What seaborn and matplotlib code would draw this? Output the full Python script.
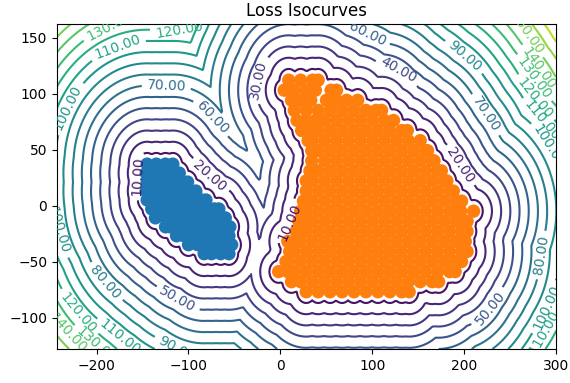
import numpy as np
import pandas as pd
import matplotlib
matplotlib.use("Agg")
import matplotlib.pyplot as plt
from matplotlib.colors import Normalize
import seaborn as sns

# ---- data: point clouds typed row by row (y value -> x values) ----
blue_rows = {
    37: [-145, -135, -125, -117],
    29: [-146, -139, -129, -119, -110],
    21: [-145, -135, -125, -115, -106, -101],
    13: [-146, -140, -130, -120, -110, -100, -92],
    5: [-145, -135, -125, -115, -105, -95, -86, -81],
    -3: [-140, -130, -120, -110, -100, -90, -80, -72, -67],
    -11: [-136, -125, -115, -105, -95, -85, -75, -66, -60],
    -19: [-125, -120, -110, -100, -90, -80, -70, -60, -55],
    -27: [-113, -105, -95, -85, -75, -65, -56],
    -35: [-100, -90, -80, -70, -60, -53],
    -43: [-83, -75, -65, -56],
}

orange_rows = {
    112: [9, 22, 35, 41],
    103: [4, 15, 28, 38, 55, 61],
    94: [12, 22, 33, 50, 61, 72, 84],
    85: [15, 28, 41, 54, 67, 80, 93, 104, 110],
    76: [18, 28, 38, 48, 61, 74, 87, 100, 113, 123],
    67: [23, 30, 41, 54, 67, 80, 93, 106, 119, 132, 138],
    58: [30, 35, 48, 61, 74, 87, 100, 113, 126, 139, 152],
    49: [34, 41, 54, 67, 80, 93, 106, 119, 132, 145, 158, 160],
    40: [34, 48, 61, 74, 87, 100, 113, 126, 139, 152, 165, 167],
    31: [32, 41, 54, 67, 80, 93, 106, 119, 132, 145, 158, 171, 175],
    22: [28, 35, 48, 61, 74, 87, 100, 113, 126, 139, 152, 165, 178, 181],
    13: [28, 41, 54, 67, 80, 93, 106, 119, 132, 145, 158, 171, 184, 188],
    4: [25, 35, 48, 61, 74, 87, 100, 113, 126, 139, 152, 165, 178, 191, 197],
    -5: [22, 28, 41, 54, 67, 80, 93, 106, 119, 132, 145, 158, 171, 184, 196, 210],
    -14: [20, 28, 35, 48, 61, 74, 87, 100, 113, 126, 139, 152, 165, 178, 191, 203],
    -23: [17, 28, 41, 54, 67, 80, 93, 106, 119, 132, 145, 158, 171, 184, 197, 203],
    -32: [8, 16, 22, 35, 48, 61, 74, 87, 100, 113, 126, 139, 152, 165, 178, 191, 201],
    -41: [10, 15, 28, 41, 54, 67, 80, 93, 106, 119, 132, 145, 158, 171, 184, 197, 203],
    -50: [6, 9, 22, 35, 48, 61, 74, 87, 100, 113, 126, 139, 152, 165, 178, 191, 197],
    -59: [-2, 8, 15, 28, 41, 54, 67, 80, 93, 106, 119, 132, 145, 158, 171, 184, 190],
    -68: [12, 22, 35, 48, 61, 74, 87, 100, 113, 126, 139, 152, 165, 172],
    -77: [28, 41, 54, 67, 80, 93, 106, 119, 132, 140],
}

cluster_names = ["blue", "orange"]
cluster_colors = ["#1f77b4", "#ff7f0e"]
contour_levels = list(range(10, 200, 10))
color_range = (0, 190)
x_range = (-243, 300)
y_range = (-128, 162)
title = "Loss Isocurves"

# approximate spots where each isocurve carries its label
label_spots = {
    10: [(-157, 26), (12, -15)],
    20: [(-74, 28), (199, 38)],
    30: [(-23, 112)],
    40: [(128, 121)],
    50: [(-110, -81), (220, -87)],
    60: [(-74, 79), (95, 155)],
    70: [(-124, 106), (226, 83)],
    80: [(-184, -64), (280, -44)],
    90: [(200, 133), (-110, -122)],
    100: [(-233, 88), (-236, -21), (293, 53), (286, -90)],
    110: [(-176, 139), (-170, -113), (285, 77), (282, -111)],
    120: [(-110, 159), (-216, -93), (275, 95)],
    130: [(-186, 159), (-197, -121), (269, 110)],
    140: [(-228, -111), (279, 121)],
    150: [(268, 154)],
}


def rows_to_frame(rows, name):
    recs = [(x, y, name) for y, xs in rows.items() for x in xs]
    return pd.DataFrame(recs, columns=["x", "y", "cluster"])


df = pd.concat([rows_to_frame(blue_rows, cluster_names[0]),
                rows_to_frame(orange_rows, cluster_names[1])], ignore_index=True)

# loss field: distance to nearest point
pts = df[["x", "y"]].to_numpy(dtype=float)
gx = np.linspace(x_range[0], x_range[1], 320)
gy = np.linspace(y_range[0], y_range[1], 240)
X, Y = np.meshgrid(gx, gy)
flat = np.stack([X.ravel(), Y.ravel()], axis=1)
D = np.full(flat.shape[0], np.inf)
for p in pts:
    d = np.hypot(flat[:, 0] - p[0], flat[:, 1] - p[1])
    D = np.minimum(D, d)
Z = D.reshape(X.shape)

fig = plt.figure(figsize=(5.7, 3.83), dpi=100)
ax = fig.add_axes([0.1, 0.089, 0.876, 0.848])
ax.set_xlim(*x_range)
ax.set_ylim(*y_range)

cmap = plt.get_cmap("viridis")
norm = Normalize(*color_range)
for lev in contour_levels:
    if not (Z.min() < lev < Z.max()):
        continue
    c = ax.contour(X, Y, Z, levels=[lev], colors=[cmap(norm(lev))],
                   linewidths=1.5)
    if lev in label_spots:
        try:
            ax.clabel(c, inline=True, fontsize=10, fmt="%.2f",
                      manual=label_spots[lev])
        except Exception as e:
            fig.text(0.01, 0.01, repr(e)[:90], fontsize=6, color="red")

sns.scatterplot(data=df, x="x", y="y", hue="cluster", hue_order=cluster_names,
                palette=cluster_colors, s=92, linewidth=0, legend=False, ax=ax,
                zorder=3)

ax.set_xlim(*x_range)
ax.set_ylim(*y_range)
ax.set_xlabel("")
ax.set_ylabel("")
ax.set_title(title, fontsize=12)

fig.savefig("out.png", dpi=100)
